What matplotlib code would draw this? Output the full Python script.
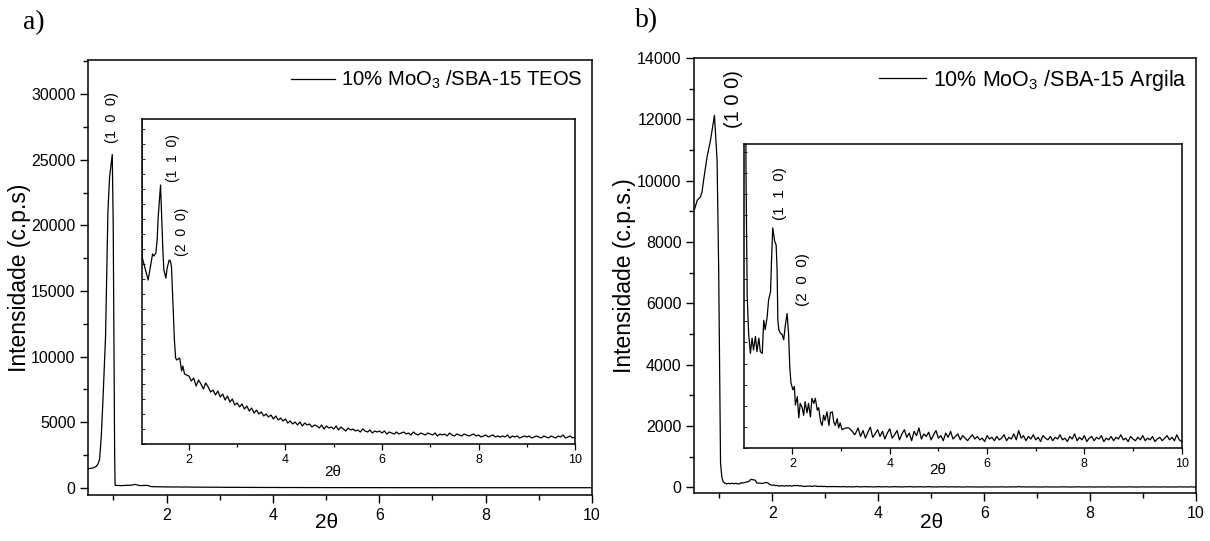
import matplotlib
matplotlib.use("Agg")
import matplotlib.pyplot as plt
from matplotlib.ticker import MultipleLocator, NullFormatter

plt.rcParams["font.family"] = ["Liberation Sans", "DejaVu Sans"]
plt.rcParams["mathtext.fontset"] = "custom"
plt.rcParams["mathtext.rm"] = "Liberation Sans"
plt.rcParams["mathtext.it"] = "Liberation Sans:italic"
plt.rcParams["mathtext.bf"] = "Liberation Sans:bold"

# ---------------- a) 10% MoO3 / SBA-15 TEOS ----------------
# low-angle region around the (1 0 0) reflection
a_peak_2theta = [0.512, 0.61, 0.676, 0.706, 0.738, 0.770, 0.800, 0.851, 0.895, 0.927,
                 0.977, 0.995, 1.012, 1.022]
a_peak_int = [1450, 1500, 1630, 1800, 2140, 3900, 6500, 11550, 21000, 23700,
              25400, 20000, 9000, 2500]
# (1 1 0) / (2 0 0) region
a_mid_2theta = [1.03, 1.036, 1.09, 1.156, 1.198, 1.248, 1.275, 1.316, 1.343, 1.364,
                1.389, 1.413, 1.44, 1.461, 1.482, 1.523, 1.55, 1.592, 1.617, 1.64,
                1.675, 1.70, 1.725, 1.75, 1.81, 1.85, 1.875, 1.91, 1.95]
a_mid_int = [202, 186, 176, 164, 176, 190, 188, 191, 204, 227,
             244, 259, 224, 194, 174, 166, 176, 184, 183, 177,
             134, 104, 86, 84, 86, 73, 78, 70, 69]
# tail, 2.00 to 10.00 in steps of 0.05
a_tail_start, a_tail_step = 2.0, 0.05
a_tail_int = [68, 63, 66, 58, 64, 60, 55, 61, 57, 52,
              54, 49, 53, 47, 50, 44, 48, 42, 45, 39,
              41, 37, 40, 35, 38, 33, 36, 31, 34, 30,
              32, 28, 30, 27, 29, 25, 28, 24, 26, 23,
              25, 21, 23, 20, 22, 19, 22, 18, 21, 19,
              20, 17, 19, 18, 16, 19, 15, 18, 16, 17,
              15, 18, 14, 17, 15, 13, 16, 14, 15, 13,
              14, 12, 15, 13, 12, 14, 11, 13, 12, 13,
              11, 13, 10, 12, 11, 10, 12, 10, 11, 12,
              10, 11, 9, 12, 10, 9, 11, 10, 9, 11,
              10, 9, 11, 8, 10, 9, 10, 8, 11, 9,
              8, 10, 9, 8, 10, 9, 8, 9, 10, 8,
              9, 7, 8, 9, 7, 8, 9, 7, 8, 7,
              8, 7, 9, 6, 8, 7, 8, 6, 7, 8,
              7, 8, 6, 7, 8, 7, 6, 8, 7, 6,
              8, 7, 6, 8, 7, 9, 6, 7, 8, 6,
              7]

# ---------------- b) 10% MoO3 / SBA-15 Argila ----------------
b_peak_2theta = [0.528, 0.58, 0.64, 0.67, 0.70, 0.765, 0.83, 0.905, 0.955, 0.985,
                 1.02, 1.045, 1.07, 1.10]
b_peak_int = [9060, 9360, 9470, 9630, 10010, 10770, 11310, 12130, 10660, 7085,
              790, 330, 180, 135]
b_mid_2theta = [1.136, 1.17, 1.20, 1.24, 1.27, 1.31, 1.34, 1.38, 1.41, 1.44,
                1.48, 1.51, 1.55, 1.57, 1.595, 1.636, 1.665, 1.685, 1.70, 1.72,
                1.75, 1.79, 1.82, 1.856, 1.89, 1.92, 1.945, 1.97, 2.01, 2.04,
                2.06, 2.10, 2.13, 2.16, 2.20, 2.23, 2.26, 2.30, 2.33, 2.37,
                2.40, 2.44, 2.47, 2.51, 2.54, 2.58, 2.61, 2.64, 2.67, 2.71,
                2.75, 2.78, 2.82, 2.85, 2.88, 2.92, 2.95, 2.98, 3.02, 3.09,
                3.16, 3.23, 3.28]
b_mid_int = [112, 130, 116, 132, 114, 130, 114, 112, 151, 140,
             155, 175, 185, 222, 260, 244, 240, 210, 151, 140,
             136, 134, 128, 146, 159, 136, 96, 77, 69, 73,
             51, 61, 36, 53, 48, 39, 55, 42, 53, 37,
             59, 53, 59, 45, 48, 31, 27, 39, 33, 43,
             27, 42, 43, 31, 27, 35, 24, 30, 22, 24,
             24, 20, 16]
# tail, 3.30 to 10.00 in steps of 0.05
b_tail_start, b_tail_step = 3.30, 0.05
b_tail_int = [18, 24, 14, 21, 12, 19, 25, 13, 17, 22,
              14, 20, 11, 18, 23, 12, 16, 21, 10, 17,
              22, 13, 18, 9, 20, 15, 24, 11, 17, 14,
              19, 10, 16, 21, 12, 15, 9, 18, 13, 20,
              11, 14, 17, 10, 15, 12, 9, 13, 16, 11,
              14, 10, 12, 8, 15, 11, 13, 9, 14, 10,
              12, 16, 9, 13, 11, 17, 10, 21, 12, 15,
              9, 14, 11, 16, 10, 13, 8, 15, 12, 10,
              14, 9, 13, 11, 16, 10, 12, 8, 14, 11,
              17, 9, 13, 10, 15, 8, 12, 14, 9, 13,
              11, 15, 8, 12, 10, 14, 9, 13, 11, 16,
              10, 12, 8, 14, 11, 9, 13, 10, 15, 9,
              12, 10, 14, 8, 11, 13, 9, 12, 15, 10,
              13, 9, 16, 10, 8]


def tail_axis(start, step, n):
    return [round(start + i * step, 4) for i in range(n)]


a_x = a_peak_2theta + a_mid_2theta + tail_axis(a_tail_start, a_tail_step, len(a_tail_int))
a_y = a_peak_int + a_mid_int + a_tail_int
b_x = b_peak_2theta + b_mid_2theta + tail_axis(b_tail_start, b_tail_step, len(b_tail_int))
b_y = b_peak_int + b_mid_int + b_tail_int

fig = plt.figure(figsize=(12.1, 5.41), dpi=100)

LW = 0.9
SPINE = 1.1


def style_main(ax, ymajor, yminor):
    for s in ax.spines.values():
        s.set_linewidth(SPINE)
    ax.xaxis.set_major_locator(MultipleLocator(2))
    ax.xaxis.set_minor_locator(MultipleLocator(1))
    ax.yaxis.set_major_locator(MultipleLocator(ymajor))
    ax.yaxis.set_minor_locator(MultipleLocator(yminor))
    ax.tick_params(which="major", direction="out", length=6, width=1.0, labelsize=11.5,
                   top=False, right=False, pad=3)
    ax.tick_params(which="minor", direction="out", length=3.5, width=1.0,
                   top=False, right=False)


def style_inset(ax, ystep):
    for s in ax.spines.values():
        s.set_linewidth(SPINE)
    ax.xaxis.set_major_locator(MultipleLocator(2))
    ax.xaxis.set_minor_locator(MultipleLocator(1))
    ax.yaxis.set_major_locator(MultipleLocator(ystep))
    ax.yaxis.set_major_formatter(NullFormatter())
    ax.tick_params(axis="x", which="major", direction="out", length=4, width=0.9,
                   labelsize=9, pad=3)
    ax.tick_params(axis="x", which="minor", direction="out", length=2.5, width=0.9)
    ax.tick_params(axis="y", which="major", direction="in", length=2, width=0.6,
                   left=True, right=False)


def add_legend(ax, size):
    ax.legend(loc="upper right", frameon=False, fontsize=size, handlelength=2.2,
              handletextpad=0.3, borderaxespad=0.0, borderpad=0.45)


# ---- panel a ----
ax_a = fig.add_axes([0.0727, 0.0850, 0.4165, 0.8041])
ax_a.plot(a_x, a_y, color="black", lw=LW, label="10% MoO$_3$ /SBA-15 TEOS")
ax_a.set_xlim(0.52, 10)
ax_a.set_ylim(-550, 32600)
style_main(ax_a, 5000, 2500)
ax_a.set_ylabel("Intensidade (c.p.s)", fontsize=16.5)
ax_a.yaxis.set_label_coords(-0.113, 0.5)
ax_a.set_xlabel("2θ", fontsize=15)
ax_a.xaxis.set_label_coords(0.474, -0.064)
ax_a.xaxis.label.set_va("center")
add_legend(ax_a, 14.6)
ax_a.text(0.975, 28250, "(1  0  0)", rotation=90, ha="center", va="center", fontsize=10.5)

ins_a = fig.add_axes([0.1174, 0.1793, 0.3579, 0.6007])
ins_a.plot(a_x, a_y, color="black", lw=LW)
ins_a.set_xlim(1.03, 10)
ins_a.set_ylim(0, 325)
style_inset(ins_a, 15)
ins_a.set_xlabel("2θ", fontsize=11)
ins_a.xaxis.set_label_coords(0.441, -0.085)
ins_a.xaxis.label.set_va("center")
ins_a.text(1.675, 286, "(1  1  0)", rotation=90, ha="center", va="center", fontsize=10)
ins_a.text(1.85, 212, "(2  0  0)", rotation=90, ha="center", va="center", fontsize=10)

# ---- panel b ----
ax_b = fig.add_axes([0.5736, 0.0882, 0.4149, 0.8046])
ax_b.plot(b_x, b_y, color="black", lw=LW, label="10% MoO$_3$ /SBA-15 Argila")
ax_b.set_xlim(0.52, 10)
ax_b.set_ylim(-195, 14000)
style_main(ax_b, 2000, 1000)
ax_b.set_ylabel("Intensidade (c.p.s.)", fontsize=16.5)
ax_b.yaxis.set_label_coords(-0.115, 0.5)
ax_b.set_xlabel("2θ", fontsize=15)
ax_b.xaxis.set_label_coords(0.474, -0.066)
ax_b.xaxis.label.set_va("center")
add_legend(ax_b, 15.5)
ax_b.text(1.264, 12650, "(1 0 0)", rotation=90, ha="center", va="center", fontsize=14.5)

ins_b = fig.add_axes([0.6151, 0.1713, 0.3615, 0.5625])
ins_b.plot(b_x, b_y, color="black", lw=LW)
ins_b.set_xlim(1.01, 10)
ins_b.set_ylim(0, 359)
style_inset(ins_b, 25)
ins_b.set_xlabel("2θ", fontsize=11)
ins_b.xaxis.set_label_coords(0.443, -0.071)
ins_b.xaxis.label.set_va("center")
ins_b.text(1.74, 301, "(1  1  0)", rotation=90, ha="center", va="center", fontsize=11)
ins_b.text(2.226, 199, "(2  0  0)", rotation=90, ha="center", va="center", fontsize=11)

# panel letters
fig.text(34 / 1210, 1 - 23 / 541, "a)", family="Liberation Serif", fontsize=20,
         ha="center", va="center")
fig.text(647 / 1210, 1 - 21 / 541, "b)", family="Liberation Serif", fontsize=20,
         ha="center", va="center")

fig.savefig("out.png", dpi=100)
